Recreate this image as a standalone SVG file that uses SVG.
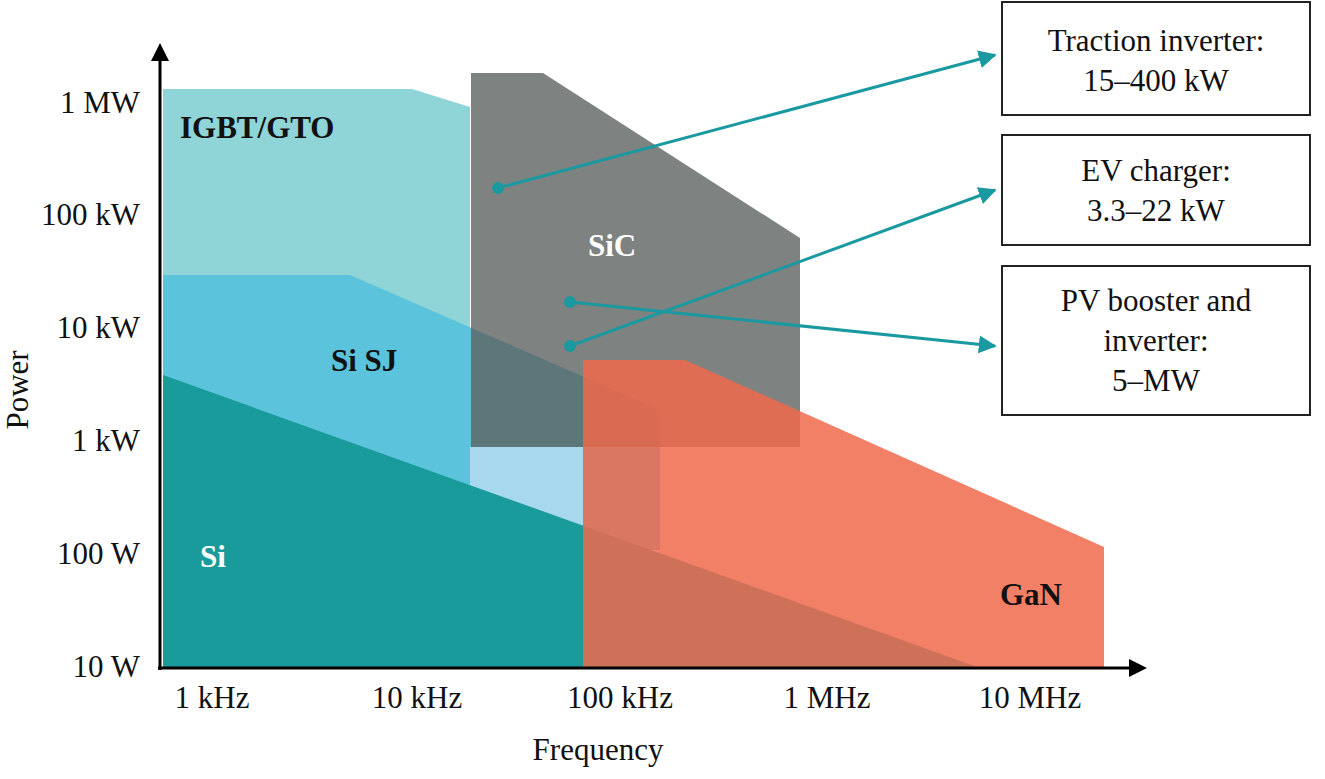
<svg xmlns="http://www.w3.org/2000/svg" width="1325" height="779" viewBox="0 0 1325 779">
<style>
text{font-family:"Liberation Serif",serif;font-size:31px;fill:#111}
.r{text-anchor:end}.m{text-anchor:middle}.b{font-weight:bold}
.box{fill:#fff;stroke:#222;stroke-width:2}
.con{stroke:#1a9aa0;stroke-width:3;fill:none}
</style>
<defs><marker id="ah" viewBox="0 0 10 10" refX="9" refY="5" markerWidth="6" markerHeight="6" orient="auto"><path d="M0,0L10,5L0,10z" fill="#1a9aa0"/></marker>
<marker id="ax" viewBox="0 0 10 10" refX="5" refY="5" markerWidth="6" markerHeight="6" orient="auto"><path d="M0,0L10,5L0,10z" fill="#000"/></marker></defs>
<rect width="1325" height="779" fill="#fff"/>
<g id="igbt"><polygon points="163,89 412,89 470,107 470,400 163,400" fill="#8fd4d6"/></g>
<g id="sisj"><polygon points="163,275 350,275 660,410 660,550 163,550" fill="#5bc4dc"/>
<rect x="470" y="447" width="113" height="80" fill="#a8d8ee"/></g>
<g id="si"><polygon points="163,375 980,668 163,668" fill="#1a9b9b"/></g>
<g id="sic"><polygon points="471,73 543,73 800,238 800,447 471,447" fill="#5e6360" opacity="0.8"/></g>
<g id="gan"><polygon points="583,360 685,360 1104,547 1104,668 583,668" fill="#f06a4c" opacity="0.85"/></g>
<g id="axes" stroke="#000" stroke-width="3">
<line x1="160" y1="670" x2="160" y2="52" marker-end="url(#ax)"/>
<line x1="158" y1="668" x2="1138" y2="668" marker-end="url(#ax)"/></g>
<g id="labels">
<text x="140" y="113" class="r">1 MW</text><text x="140" y="225" class="r">100 kW</text>
<text x="140" y="338" class="r">10 kW</text><text x="140" y="451" class="r">1 kW</text>
<text x="140" y="564" class="r">100 W</text><text x="140" y="677" class="r">10 W</text>
<text x="212" y="708" class="m">1 kHz</text><text x="417" y="708" class="m">10 kHz</text>
<text x="620" y="708" class="m">100 kHz</text><text x="827" y="708" class="m">1 MHz</text>
<text x="1030" y="708" class="m">10 MHz</text>
<text x="598" y="760" class="m">Frequency</text>
<text transform="translate(28,390) rotate(-90)" class="m">Power</text>
<text x="180" y="138" class="b">IGBT/GTO</text>
<text x="331" y="371" class="b">Si SJ</text>
<text x="200" y="567" class="b" style="fill:#fff">Si</text>
<text x="588" y="256" class="b" style="fill:#fff">SiC</text>
<text x="1000" y="605" class="b">GaN</text></g>
<g id="connectors">
<circle cx="498" cy="188" r="6" fill="#1a9aa0"/><circle cx="570" cy="346" r="6" fill="#1a9aa0"/><circle cx="570" cy="302" r="6" fill="#1a9aa0"/>
<line class="con" x1="498" y1="188" x2="995" y2="55" marker-end="url(#ah)"/>
<line class="con" x1="570" y1="346" x2="995" y2="190" marker-end="url(#ah)"/>
<line class="con" x1="570" y1="302" x2="995" y2="346" marker-end="url(#ah)"/></g>
<g id="n1"><rect class="box" x="1002" y="2" width="308" height="113"/><text x="1156" y="51" class="m">Traction inverter:</text><text x="1156" y="91" class="m">15–400 kW</text></g>
<g id="n2"><rect class="box" x="1002" y="135" width="308" height="110"/><text x="1156" y="181" class="m">EV charger:</text><text x="1156" y="221" class="m">3.3–22 kW</text></g>
<g id="n3"><rect class="box" x="1002" y="266" width="308" height="149"/><text x="1156" y="311" class="m">PV booster and</text><text x="1156" y="351" class="m">inverter:</text><text x="1156" y="391" class="m">5–MW</text></g>
</svg>
